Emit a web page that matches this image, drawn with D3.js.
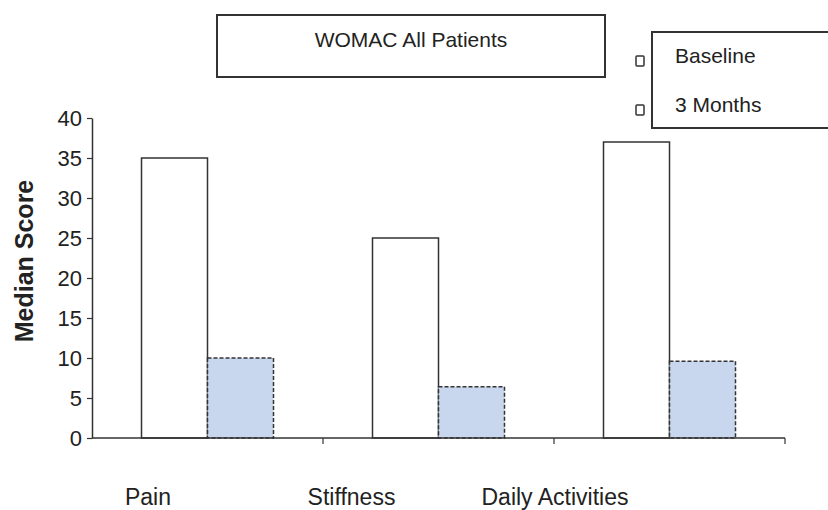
<!DOCTYPE html>
<html><head><meta charset="utf-8">
<script src="https://cdn.jsdelivr.net/npm/d3@7"></script>
<style>
html,body{margin:0;padding:0;background:#fff;}
text{font-family:"Liberation Sans",Arial,sans-serif;fill:#222;}
</style></head>
<body>
<svg id="c" width="828" height="510"></svg>
<script>
const categories = ["Pain", "Stiffness", "Daily Activities"];
const series = ["Baseline", "3 Months"];
const baselineValues = [35, 25, 37];
const threeMonthValues = [10, 6.4, 9.6];
const yTicks = [0, 5, 10, 15, 20, 25, 30, 35, 40];
const titleText = "WOMAC All Patients";
const yLabel = "Median Score";

const svg = d3.select("#c");
const W = 828, H = 510;
svg.append("rect").attr("width", W).attr("height", H).attr("fill", "#fff");

const y = d3.scaleLinear().domain([0, 40]).range([438, 118]);
const x0 = d3.scaleBand().domain(categories).range([92, 785]).padding(0);
const x1 = d3.scaleBand().domain(series).range([0, x0.bandwidth()]).paddingInner(0).paddingOuter(0.75);
const fills = {"Baseline": "#ffffff", "3 Months": "#c9d7ee"};
const dashes = {"Baseline": null, "3 Months": "4,2"};

const rows = categories.map((c, i) => ({cat: c, vals: [
  {s: "Baseline", v: baselineValues[i]},
  {s: "3 Months", v: threeMonthValues[i]}
]}));

// bars
const g = svg.append("g");
g.selectAll("g.cat").data(rows).join("g")
  .attr("transform", d => `translate(${x0(d.cat)},0)`)
  .selectAll("rect").data(d => d.vals).join("rect")
  .attr("x", d => x1(d.s))
  .attr("width", x1.bandwidth())
  .attr("y", d => y(d.v))
  .attr("height", d => y(0) - y(d.v))
  .attr("fill", d => fills[d.s])
  .attr("stroke", "#333")
  .attr("stroke-width", 1.5)
  .attr("stroke-dasharray", d => dashes[d.s]);

// y axis
const yAxis = svg.append("g").attr("transform", "translate(92,0)")
  .call(d3.axisLeft(y).tickValues(yTicks).tickSize(5).tickSizeOuter(0).tickPadding(5));
yAxis.select(".domain").attr("stroke", "#333").attr("stroke-width", 1.5);
yAxis.selectAll(".tick line").attr("stroke", "#333").attr("stroke-width", 1.2);
yAxis.selectAll(".tick text").attr("font-size", 22).attr("fill", "#222")
  .attr("font-family", "'Liberation Sans', Arial, sans-serif");

// x axis
svg.append("line").attr("x1", x0.range()[0]).attr("x2", x0.range()[1])
  .attr("y1", y(0)).attr("y2", y(0)).attr("stroke", "#333").attr("stroke-width", 1.5);
svg.selectAll("line.xt").data(categories).join("line").attr("class", "xt")
  .attr("x1", d => x0(d) + x0.bandwidth()).attr("x2", d => x0(d) + x0.bandwidth())
  .attr("y1", y(0)).attr("y2", y(0) + 6).attr("stroke", "#333").attr("stroke-width", 1.2);

// category labels (offset line of text as in the source)
const xl = d3.scalePoint().domain(categories).range([148, 555]);
svg.selectAll("text.cat").data(categories).join("text").attr("class", "cat")
  .attr("x", d => xl(d)).attr("y", 505).attr("text-anchor", "middle")
  .attr("font-size", 23).text(d => d);

// y label
svg.append("text").attr("transform", "translate(33,261) rotate(-90)")
  .attr("text-anchor", "middle").attr("font-size", 25).attr("font-weight", "bold")
  .text(yLabel);

// title box
svg.append("rect").attr("x", 217).attr("y", 15).attr("width", 388).attr("height", 62)
  .attr("fill", "#fff").attr("stroke", "#333").attr("stroke-width", 2);
svg.append("text").attr("x", 411).attr("y", 47).attr("text-anchor", "middle")
  .attr("font-size", 21).text(titleText);

// legend
svg.append("rect").attr("x", 652).attr("y", 32).attr("width", 200).attr("height", 96)
  .attr("fill", "#fff").attr("stroke", "#333").attr("stroke-width", 2);
const leg = svg.selectAll("g.leg").data(series).join("g").attr("class", "leg")
  .attr("transform", (d, i) => `translate(0,${i * 49})`);
leg.append("rect").attr("x", 636).attr("y", 56).attr("width", 8).attr("height", 10)
  .attr("fill", "#fff").attr("stroke", "#333").attr("stroke-width", 1.5).attr("rx", 1);
leg.append("text").attr("x", 675).attr("y", 63).attr("font-size", 21).text(d => d);
</script>
</body></html>
